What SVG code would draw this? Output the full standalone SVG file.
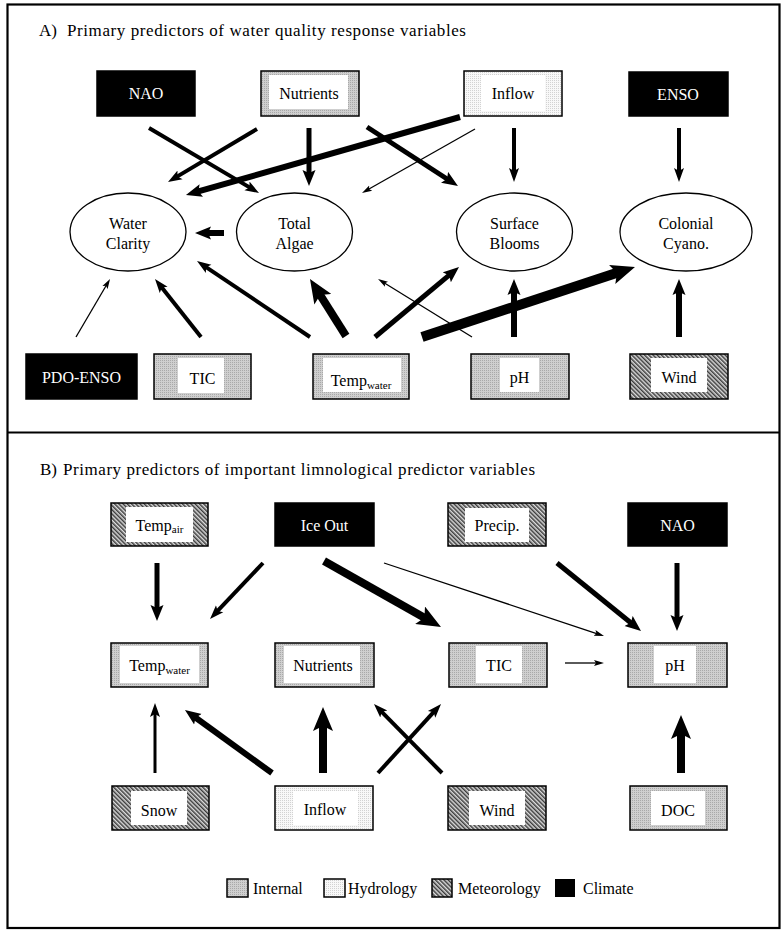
<svg xmlns="http://www.w3.org/2000/svg" width="783" height="930" viewBox="0 0 783 930">
<style>
text{font-family:"Liberation Serif","Times New Roman",serif;font-size:16px;fill:#000}
.title{font-size:17px}
.t{text-anchor:middle}
.w{fill:#fff}
.sub{font-size:11px}
.box{stroke:#000;stroke-width:1.5}
.inner{fill:#fff;stroke:none}
.int{fill:url(#pInt)}
.hyd{fill:url(#pHyd)}
.met{fill:url(#pMet)}
.cli{fill:#000}
.ell{fill:#fff;stroke:#000;stroke-width:1.3}
.c line{stroke:#000;fill:none}
.w1{stroke-width:1.3}
.w3{stroke-width:3}
.w4{stroke-width:4}
.w5{stroke-width:5}
.w6{stroke-width:6}
.w8{stroke-width:8}
.w10{stroke-width:10}
</style>
<defs>
<pattern id="pInt" width="2" height="2" patternUnits="userSpaceOnUse"><rect width="2" height="2" fill="#cfcfcf"/><rect width="1" height="1" fill="#a9a9a9"/></pattern>
<pattern id="pHyd" width="2" height="2" patternUnits="userSpaceOnUse"><rect width="2" height="2" fill="#f8f8f8"/><rect width="1" height="1" fill="#d2d2d2"/></pattern>
<pattern id="pMet" width="3" height="3" patternUnits="userSpaceOnUse" patternTransform="rotate(-45)"><rect width="3" height="3" fill="#dcdcdc"/><rect width="1.5" height="3" fill="#3c3c3c"/></pattern>
<marker id="m1" markerUnits="userSpaceOnUse" viewBox="0 -4 12 8" markerWidth="12" markerHeight="8" refX="3" refY="0" orient="auto"><path d="M0,-3 L10,0 L0,3 L2,0 z" fill="#000"/></marker>
<marker id="m4" markerUnits="userSpaceOnUse" viewBox="0 -6 14 12" markerWidth="14" markerHeight="12" refX="4" refY="0" orient="auto"><path d="M0,-5 L14,0 L0,5 L3,0 z" fill="#000"/></marker>
<marker id="m6" markerUnits="userSpaceOnUse" viewBox="0 -7 16 14" markerWidth="16" markerHeight="14" refX="4" refY="0" orient="auto"><path d="M0,-6.5 L16,0 L0,6.5 L3,0 z" fill="#000"/></marker>
<marker id="m9" markerUnits="userSpaceOnUse" viewBox="0 -10 24 20" markerWidth="24" markerHeight="20" refX="6" refY="0" orient="auto"><path d="M0,-10 L24,0 L0,10 L5,0 z" fill="#000"/></marker>
</defs>
<rect width="783" height="930" fill="#fff"/>
<g id="frame" fill="none" stroke="#000" stroke-width="2.2">
<rect x="7.5" y="4.5" width="772" height="923.5"/>
<line x1="7.5" y1="432.5" x2="779.5" y2="432.5"/>
</g>
<text class="title" x="39" y="36">A)<tspan x="67" textLength="399" lengthAdjust="spacing">Primary predictors of water quality response variables</tspan></text>
<text class="title" x="40" y="475">B)<tspan x="63" textLength="472" lengthAdjust="spacing">Primary predictors of important limnological predictor variables</tspan></text>

<!-- Panel A nodes -->
<g id="a-nao"><rect class="box cli" x="97" y="71" width="98" height="45"/><text class="t w" x="146" y="99">NAO</text></g>
<g id="a-nutrients"><rect class="box int" x="261" y="71" width="98" height="45"/><rect class="inner" x="269" y="75" width="79" height="34"/><text class="t" x="309" y="99">Nutrients</text></g>
<g id="a-inflow"><rect class="box hyd" x="464" y="71" width="98" height="45"/><rect class="inner" x="481" y="75" width="64" height="36"/><text class="t" x="513" y="99">Inflow</text></g>
<g id="a-enso"><rect class="box cli" x="629" y="72" width="99" height="44"/><text class="t w" x="678" y="100">ENSO</text></g>
<g id="a-clarity"><ellipse class="ell" cx="128" cy="232" rx="58" ry="39"/><text class="t" x="128" y="229">Water</text><text class="t" x="128" y="249">Clarity</text></g>
<g id="a-algae"><ellipse class="ell" cx="294.5" cy="232" rx="58" ry="39"/><text class="t" x="294.5" y="229">Total</text><text class="t" x="294.5" y="249">Algae</text></g>
<g id="a-blooms"><ellipse class="ell" cx="514.5" cy="232" rx="58" ry="39"/><text class="t" x="514.5" y="229">Surface</text><text class="t" x="514.5" y="249">Blooms</text></g>
<g id="a-cyano"><ellipse class="ell" cx="686" cy="232" rx="66" ry="39"/><text class="t" x="686" y="229">Colonial</text><text class="t" x="686" y="249">Cyano.</text></g>
<g id="a-pdo"><rect class="box cli" x="26" y="354" width="111" height="45"/><text class="t w" x="81.5" y="383">PDO-ENSO</text></g>
<g id="a-tic"><rect class="box int" x="154" y="354" width="97" height="45"/><rect class="inner" x="178" y="358" width="46" height="35"/><text class="t" x="202.5" y="384">TIC</text></g>
<g id="a-temp"><rect class="box int" x="313" y="354" width="96" height="45"/><rect class="inner" x="323" y="358" width="78" height="34"/><text class="t" x="361" y="386">Temp<tspan class="sub" dy="3">water</tspan></text></g>
<g id="a-ph"><rect class="box int" x="471" y="354" width="98" height="45"/><rect class="inner" x="500" y="358" width="39" height="34"/><text class="t" x="519.5" y="383">pH</text></g>
<g id="a-wind"><rect class="box met" x="630" y="354" width="98" height="45"/><rect class="inner" x="651" y="358" width="56" height="34"/><text class="t" x="679" y="383">Wind</text></g>

<!-- Panel B nodes -->
<g id="b-tair"><rect class="box met" x="111" y="503" width="97" height="43"/><rect class="inner" x="126" y="507" width="67" height="35"/><text class="t" x="159.5" y="531">Temp<tspan class="sub" dy="2">air</tspan></text></g>
<g id="b-iceout"><rect class="box cli" x="275" y="503" width="99" height="43"/><text class="t w" x="324.5" y="531">Ice Out</text></g>
<g id="b-precip"><rect class="box met" x="448" y="503" width="98" height="43"/><rect class="inner" x="465" y="508" width="64" height="34"/><text class="t" x="497" y="531">Precip.</text></g>
<g id="b-nao"><rect class="box cli" x="628" y="503" width="99" height="43"/><text class="t w" x="677.5" y="531">NAO</text></g>
<g id="b-twater"><rect class="box int" x="111" y="643" width="97" height="44"/><rect class="inner" x="120" y="646" width="79" height="37"/><text class="t" x="159.5" y="671">Temp<tspan class="sub" dy="3">water</tspan></text></g>
<g id="b-nutrients"><rect class="box int" x="275" y="643" width="99" height="44"/><rect class="inner" x="284" y="646" width="76" height="37"/><text class="t" x="323" y="671">Nutrients</text></g>
<g id="b-tic"><rect class="box int" x="449" y="643" width="98" height="44"/><rect class="inner" x="476" y="646" width="46" height="37"/><text class="t" x="499" y="671">TIC</text></g>
<g id="b-ph"><rect class="box int" x="628" y="643" width="99" height="44"/><rect class="inner" x="654" y="646" width="42" height="37"/><text class="t" x="675" y="671">pH</text></g>
<g id="b-snow"><rect class="box met" x="112" y="786" width="97" height="44"/><rect class="inner" x="131" y="791" width="56" height="34"/><text class="t" x="159" y="816">Snow</text></g>
<g id="b-inflow"><rect class="box hyd" x="275" y="786" width="98" height="44"/><rect class="inner" x="293" y="791" width="65" height="34"/><text class="t" x="325" y="815">Inflow</text></g>
<g id="b-wind"><rect class="box met" x="448" y="786" width="98" height="44"/><rect class="inner" x="469" y="791" width="56" height="34"/><text class="t" x="497" y="816">Wind</text></g>
<g id="b-doc"><rect class="box int" x="630" y="786" width="97" height="44"/><rect class="inner" x="651" y="791" width="54" height="34"/><text class="t" x="678" y="816">DOC</text></g>

<!-- Legend -->
<g id="legend">
<rect class="box int" x="227" y="879" width="21" height="18" stroke-width="1"/><text x="253" y="894">Internal</text>
<rect class="box hyd" x="324" y="879" width="21" height="18" stroke-width="1"/><text x="348" y="894">Hydrology</text>
<rect class="box met" x="432" y="879" width="20" height="18" stroke-width="1"/><text x="458" y="894">Meteorology</text>
<rect class="cli" x="555" y="879" width="20" height="18"/><text x="583" y="894">Climate</text>
</g>

<!-- Connectors -->
<g id="connectors" class="c">
<line class="w4" x1="149" y1="128" x2="250.4" y2="187.9" marker-end="url(#m4)"/>
<line class="w4" x1="257" y1="129" x2="176.6" y2="176.9" marker-end="url(#m4)"/>
<line class="w5" x1="309" y1="128" x2="309" y2="174" marker-end="url(#m6)"/>
<line class="w6" x1="460" y1="117" x2="197.5" y2="191.7" marker-end="url(#m6)"/>
<line class="w1" x1="475" y1="129" x2="368.1" y2="189.5" marker-end="url(#m1)"/>
<line class="w5" x1="367" y1="127" x2="447.9" y2="179.5" marker-end="url(#m6)"/>
<line class="w4" x1="514" y1="128" x2="514" y2="172" marker-end="url(#m4)"/>
<line class="w4" x1="679" y1="128" x2="679" y2="172" marker-end="url(#m4)"/>
<line class="w6" x1="224" y1="233" x2="207" y2="233" marker-end="url(#m6)"/>
<line class="w1" x1="76" y1="337" x2="106.5" y2="285" marker-end="url(#m1)"/>
<line class="w4" x1="201" y1="337" x2="161.2" y2="286.8" marker-end="url(#m4)"/>
<line class="w4" x1="310" y1="337" x2="205.3" y2="266.6" marker-end="url(#m4)"/>
<line class="w8" x1="346" y1="336" x2="319.6" y2="294.2" marker-end="url(#m9)"/>
<line class="w5" x1="375" y1="337" x2="449.8" y2="274.7" marker-end="url(#m6)"/>
<line class="w1" x1="472" y1="337" x2="384" y2="282.7" marker-end="url(#m1)"/>
<line class="w10" x1="422" y1="337" x2="617.9" y2="272.6" marker-end="url(#m9)"/>
<line class="w6" x1="514" y1="337" x2="514" y2="291" marker-end="url(#m6)"/>
<line class="w6" x1="679" y1="337" x2="679" y2="291" marker-end="url(#m6)"/>

<line class="w5" x1="157" y1="563" x2="157" y2="609" marker-end="url(#m6)"/>
<line class="w4" x1="263" y1="563" x2="216.9" y2="611.7" marker-end="url(#m4)"/>
<line class="w8" x1="324" y1="561" x2="425.3" y2="618.2" marker-end="url(#m9)"/>
<line class="w1" x1="384" y1="563" x2="597.4" y2="633.8" marker-end="url(#m1)"/>
<line class="w5" x1="557" y1="563" x2="631.7" y2="623.5" marker-end="url(#m6)"/>
<line class="w5" x1="677" y1="563" x2="677" y2="619" marker-end="url(#m6)"/>
<line class="w1" x1="565" y1="663" x2="597" y2="663" marker-end="url(#m1)"/>
<line class="w3" x1="155" y1="773" x2="155" y2="713" marker-end="url(#m4)"/>
<line class="w6" x1="272" y1="773" x2="194.7" y2="717" marker-end="url(#m6)"/>
<line class="w8" x1="323" y1="773" x2="323" y2="725" marker-end="url(#m9)"/>
<line class="w4" x1="442" y1="773" x2="381" y2="711.1" marker-end="url(#m4)"/>
<line class="w4" x1="378" y1="773" x2="434.3" y2="711.4" marker-end="url(#m4)"/>
<line class="w8" x1="681" y1="773" x2="681" y2="733" marker-end="url(#m9)"/>
</g>
</svg>
